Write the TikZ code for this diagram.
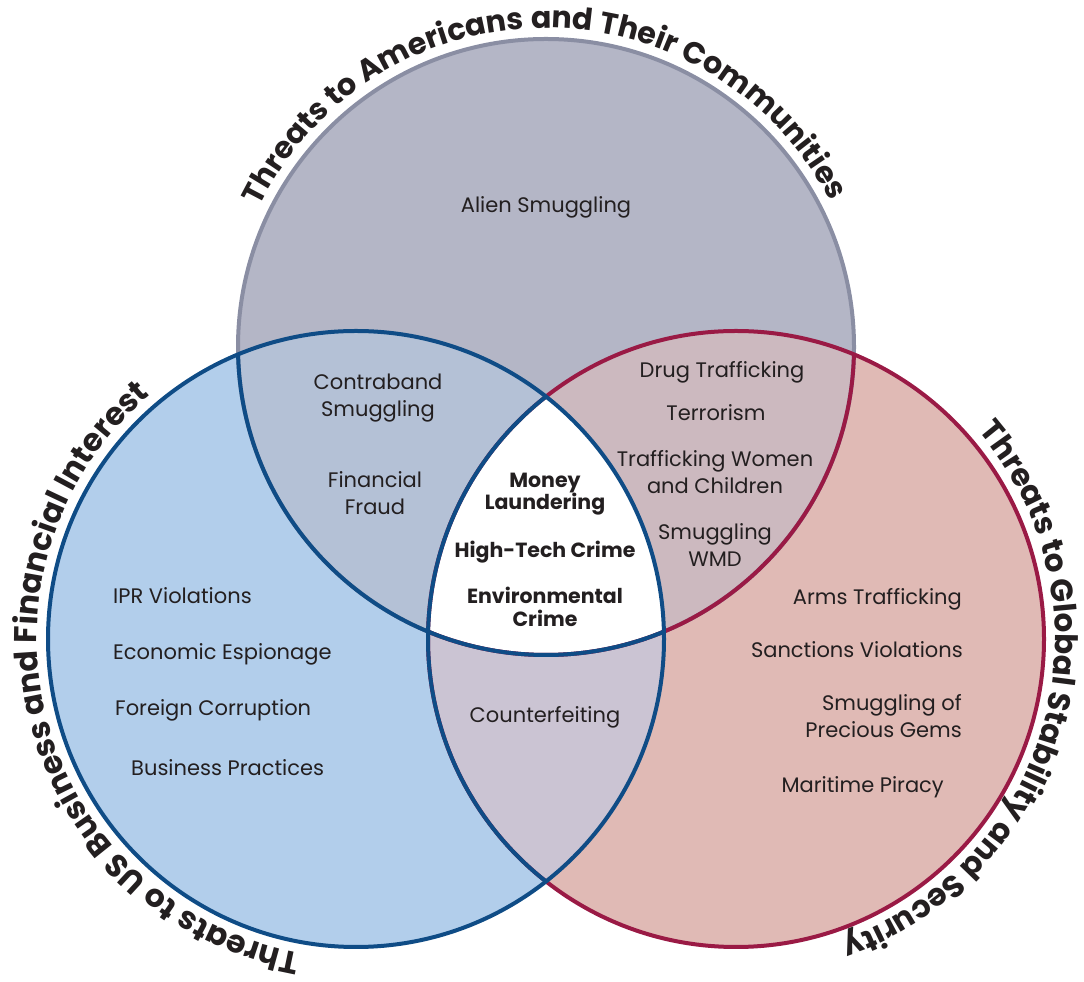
\documentclass[tikz,border=0pt]{standalone}
\usepackage{fontspec}
\setmainfont{Poppins}
\usepackage{xcolor}
\usepackage{tikz}
\usetikzlibrary{decorations.text}

\definecolor{topfill}{HTML}{B4B6C6}
\definecolor{leftfill}{HTML}{B2CEEB}
\definecolor{rightfill}{HTML}{E0BAB5}
\definecolor{tlfill}{HTML}{B4C1D6}
\definecolor{trfill}{HTML}{CCB9BF}
\definecolor{lrfill}{HTML}{CBC4D3}
\definecolor{topline}{HTML}{8A8EA3}
\definecolor{leftline}{HTML}{0F4C86}
\definecolor{rightline}{HTML}{9A1A45}
\definecolor{ink}{HTML}{231F20}

\tikzset{
  ring/.style={line width=4pt},
  item/.style={font=\fontsize{21}{27}\selectfont, text=ink, align=center,
    inner sep=0pt},
  one/.style={item, text height=14pt, text depth=5pt},
  core/.style={item, font=\fontsize{20.5}{22.5}\selectfont\bfseries},
  title/.style 2 args={decorate, decoration={text along path,
    text align=center, text={|\fontsize{#1}{#1}\selectfont\bfseries\color{ink}|#2}}},
}

\begin{document}
\begin{tikzpicture}[x=1pt,y=1pt]
  \def\rad{308}
  \def\trad{319}
  \useasboundingbox (0,0) rectangle (1084,982);
  \coordinate (T) at (546,635);
  \coordinate (L) at (356,343);
  \coordinate (R) at (736,343);

  % fills
  \fill[topfill] (T) circle (\rad);
  \fill[leftfill] (L) circle (\rad);
  \fill[rightfill] (R) circle (\rad);
  \begin{scope}
    \clip (T) circle (\rad);
    \fill[tlfill] (L) circle (\rad);
    \fill[trfill] (R) circle (\rad);
  \end{scope}
  \begin{scope}
    \clip (L) circle (\rad);
    \fill[lrfill] (R) circle (\rad);
    \clip (R) circle (\rad);
    \fill[white] (T) circle (\rad);
  \end{scope}

  % outlines
  \draw[ring, topline] (T) circle (\rad);
  \draw[ring, rightline] (R) circle (\rad);
  \begin{scope}
    \clip (R) circle (\rad);
    \draw[ring, rightline] (T) circle (\rad);
  \end{scope}
  \draw[ring, leftline] (L) circle (\rad);
  \begin{scope}
    \clip (L) circle (\rad);
    \draw[ring, leftline] (T) circle (\rad);
    \draw[ring, leftline] (R) circle (\rad);
  \end{scope}

  % circle titles
  \path[title={30.2}{Threats to Americans and Their Communities}]
    (T) ++(175:\trad) arc[start angle=175, end angle=6, radius=\trad];
  \path[title={31.5}{Threats to US Business and Financial Interest}]
    (L) ++(290:\trad) arc[start angle=290, end angle=100, radius=\trad];
  \path[title={31}{Threats to Global Stability and Security}]
    (R) ++(75:\trad) arc[start angle=75, end angle=-105, radius=\trad];

  % top only
  \node[one] (alien) at (546,774) {Alien Smuggling};

  % top and left
  \node[item] (contraband) at (378,584) {Contraband\\Smuggling};
  \node[item] (fraud) at (375,489) {Financial\\Fraud};

  % all three
  \node[core] (money) at (545,488) {Money\\Laundering};
  \node[core, text height=14pt, text depth=5pt] (hightech) at (545,429) {High-Tech Crime};
  \node[core] (environ) at (545,375) {Environmental\\Crime};

  % top and right
  \node[one] (drugs) at (722,609) {Drug Trafficking};
  \node[one] (terror) at (716,566) {Terrorism};
  \node[item] (women) at (715,510) {Trafficking Women\\and Children};
  \node[item] (wmd) at (715,437) {Smuggling\\WMD};

  % left only
  \foreach \nm/\xx/\yy/\txt in {ipr/113/383/IPR Violations,
      espionage/113/327/Economic Espionage,
      corruption/115/271/Foreign Corruption,
      practices/131/211/Business Practices}
    \node[one, anchor=west] (\nm) at (\xx,\yy) {\txt};

  % left and right
  \node[one] (counterfeit) at (545,264) {Counterfeiting};

  % right only
  \foreach \nm/\xx/\yy/\txt in {arms/962/382/Arms Trafficking,
      sanctions/963/329/Sanctions Violations,
      piracy/944/194/Maritime Piracy}
    \node[one, anchor=east] (\nm) at (\xx,\yy) {\txt};
  \node[item, anchor=east, align=right] (gems) at (962,266) {Smuggling of\\Precious Gems};
\end{tikzpicture}
\end{document}
